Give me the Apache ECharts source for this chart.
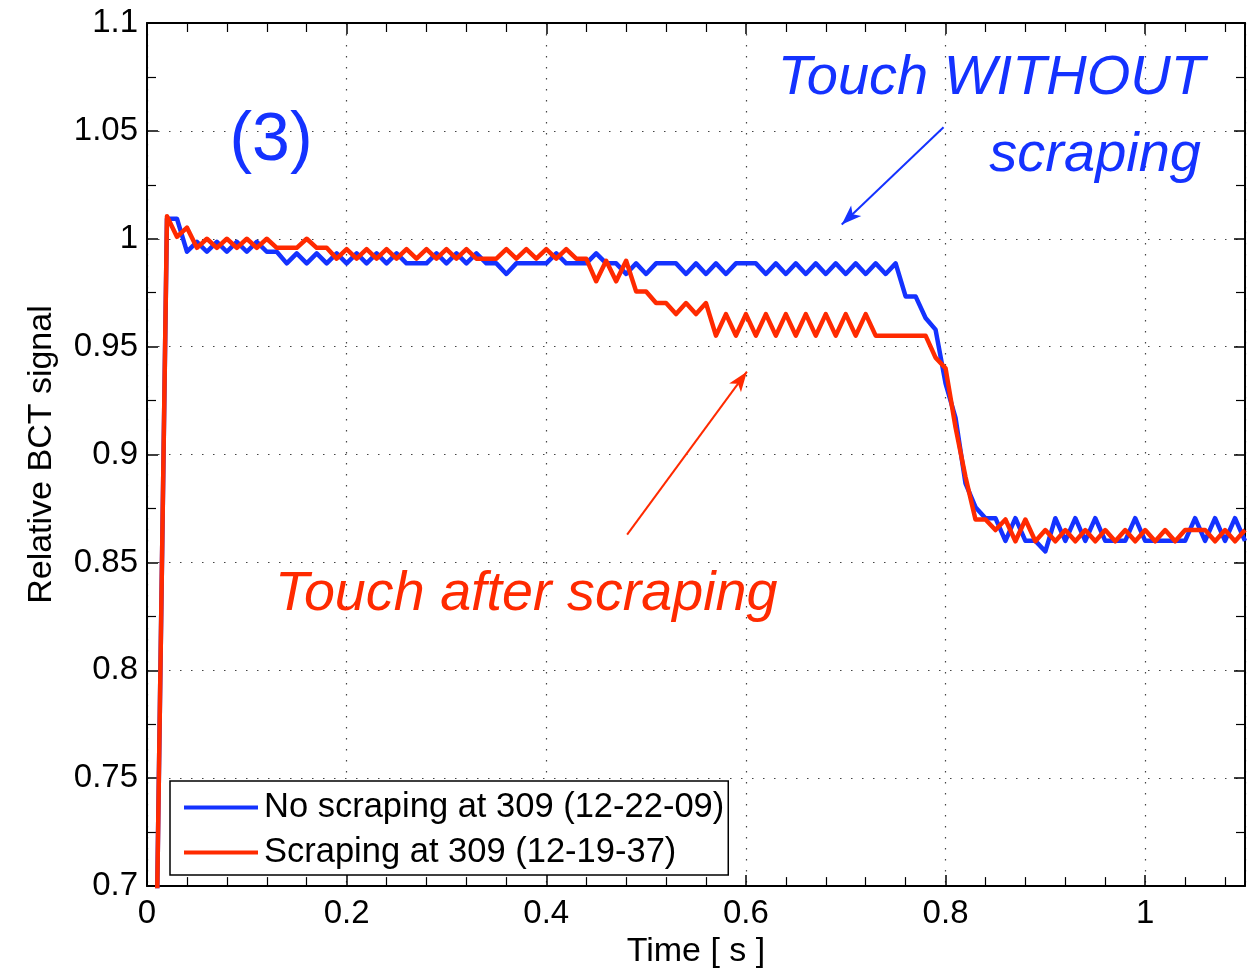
<!DOCTYPE html>
<html>
<head>
<meta charset="utf-8">
<script src="https://cdn.jsdelivr.net/npm/echarts@6/dist/echarts.min.js"></script>
<style>
  html, body { margin: 0; padding: 0; background: #ffffff; overflow: hidden; }
  #chart { width: 1248px; height: 974px; }
</style>
</head>
<body>
<div id="chart"></div>
<script>
// Sample times [s]
const time = [
  0.01, 0.02, 0.03, 0.04, 0.05, 0.06, 0.07, 0.08, 0.09, 0.10,
  0.11, 0.12, 0.13, 0.14, 0.15, 0.16, 0.17, 0.18, 0.19, 0.20,
  0.21, 0.22, 0.23, 0.24, 0.25, 0.26, 0.27, 0.28, 0.29, 0.30,
  0.31, 0.32, 0.33, 0.34, 0.35, 0.36, 0.37, 0.38, 0.39, 0.40,
  0.41, 0.42, 0.43, 0.44, 0.45, 0.46, 0.47, 0.48, 0.49, 0.50,
  0.51, 0.52, 0.53, 0.54, 0.55, 0.56, 0.57, 0.58, 0.59, 0.60,
  0.61, 0.62, 0.63, 0.64, 0.65, 0.66, 0.67, 0.68, 0.69, 0.70,
  0.71, 0.72, 0.73, 0.74, 0.75, 0.76, 0.77, 0.78, 0.79, 0.80,
  0.81, 0.82, 0.83, 0.84, 0.85, 0.86, 0.87, 0.88, 0.89, 0.90,
  0.91, 0.92, 0.93, 0.94, 0.95, 0.96, 0.97, 0.98, 0.99, 1.00,
  1.01, 1.02, 1.03, 1.04, 1.05, 1.06, 1.07, 1.08, 1.09, 1.10
];

// Relative BCT signal, no scraping at 309 (12-22-09)
const noScraping = [
  0.69, 1.0093, 1.0093, 0.9940, 0.9986, 0.9940, 0.9986, 0.9940, 0.9986, 0.9940,
  0.9986, 0.9940, 0.9940, 0.9886, 0.9932, 0.9886, 0.9932, 0.9886, 0.9932, 0.9886,
  0.9932, 0.9886, 0.9932, 0.9886, 0.9932, 0.9886, 0.9886, 0.9886, 0.9932, 0.9886,
  0.9932, 0.9886, 0.9932, 0.9886, 0.9886, 0.9837, 0.9886, 0.9886, 0.9886, 0.9886,
  0.9932, 0.9886, 0.9886, 0.9886, 0.9932, 0.9886, 0.9886, 0.9837, 0.9886, 0.9837,
  0.9886, 0.9886, 0.9886, 0.9837, 0.9886, 0.9837, 0.9886, 0.9837, 0.9886, 0.9886,
  0.9886, 0.9837, 0.9886, 0.9837, 0.9886, 0.9837, 0.9886, 0.9837, 0.9886, 0.9837,
  0.9886, 0.9837, 0.9886, 0.9837, 0.9886, 0.9733, 0.9733, 0.9633, 0.9579, 0.9330,
  0.9170, 0.8866, 0.8756, 0.8705, 0.8705, 0.8600, 0.8705, 0.8600, 0.8600, 0.8551,
  0.8705, 0.8600, 0.8705, 0.8600, 0.8705, 0.8600, 0.8600, 0.8600, 0.8705, 0.8600,
  0.8600, 0.8600, 0.8600, 0.8600, 0.8705, 0.8600, 0.8705, 0.8600, 0.8705, 0.8600
];

// Relative BCT signal, scraping at 309 (12-19-37)
const scraping = [
  0.69, 1.0104, 1.0009, 1.0052, 0.9958, 1.0000, 0.9958, 1.0000, 0.9958, 1.0000,
  0.9958, 1.0000, 0.9958, 0.9958, 0.9958, 1.0000, 0.9958, 0.9958, 0.9908, 0.9952,
  0.9908, 0.9952, 0.9908, 0.9952, 0.9908, 0.9952, 0.9908, 0.9952, 0.9908, 0.9952,
  0.9908, 0.9952, 0.9908, 0.9908, 0.9908, 0.9952, 0.9908, 0.9952, 0.9908, 0.9952,
  0.9908, 0.9952, 0.9908, 0.9908, 0.9803, 0.9898, 0.9803, 0.9898, 0.9756, 0.9756,
  0.9702, 0.9702, 0.9651, 0.9702, 0.9651, 0.9702, 0.9551, 0.9651, 0.9551, 0.9651,
  0.9551, 0.9651, 0.9551, 0.9651, 0.9551, 0.9651, 0.9551, 0.9651, 0.9551, 0.9651,
  0.9551, 0.9651, 0.9551, 0.9551, 0.9551, 0.9551, 0.9551, 0.9551, 0.9449, 0.9400,
  0.9126, 0.8896, 0.8699, 0.8699, 0.8650, 0.8699, 0.8598, 0.8699, 0.8598, 0.8650,
  0.8598, 0.8650, 0.8598, 0.8650, 0.8598, 0.8650, 0.8598, 0.8650, 0.8598, 0.8650,
  0.8598, 0.8650, 0.8598, 0.8650, 0.8650, 0.8650, 0.8598, 0.8650, 0.8598, 0.8650
];

const seriesNames = ['No scraping at 309 (12-22-09)', 'Scraping at 309 (12-19-37)'];

// Annotation arrows: [start, end] in (time, signal)
const arrowWithout = [[0.798, 1.0517], [0.696, 1.0066]];
const arrowAfter = [[0.481, 0.8629], [0.601, 0.9384]];

const BLUE = '#1432ff';
const RED = '#ff2a00';
const FONT = '"Liberation Sans", Arial, Helvetica, sans-serif';

const pairs = (vals) => vals.map((v, i) => [time[i], v]);
const fmt = (v) => String(+v.toFixed(3));

const gridLine = { show: true, lineStyle: { color: '#444', width: 1.2, type: [1.5, 9.5] } };
const tick = { show: true, inside: true, length: 11, lineStyle: { color: '#000', width: 1.5 } };
const minor = { show: true, length: 9, lineStyle: { color: '#000', width: 1.2 } };
const axisLine = { show: true, onZero: false, lineStyle: { color: '#000', width: 2 } };

const chart = echarts.init(document.getElementById('chart'), null, { renderer: 'canvas', width: 1248, height: 974 });

chart.setOption({
  animation: false,
  backgroundColor: '#ffffff',
  grid: { left: 147, right: 1, top: 23, bottom: 84, containLabel: false },
  xAxis: [
    {
      type: 'value', min: 0, max: 1.1, interval: 0.2,
      name: 'Time [ s ]', nameLocation: 'middle', nameGap: 48,
      nameTextStyle: { fontFamily: FONT, fontSize: 34, color: '#000' },
      axisLine: axisLine, axisTick: tick,
      minorTick: Object.assign({ splitNumber: 5 }, minor),
      splitLine: gridLine,
      axisLabel: {
        fontFamily: FONT, fontSize: 33, color: '#000', margin: 11,
        formatter: (v) => (v > 1.05 ? '' : fmt(v))
      }
    },
    {
      type: 'value', min: 0, max: 1.1, interval: 0.2, position: 'top',
      axisLine: axisLine, axisTick: tick,
      minorTick: Object.assign({ splitNumber: 5 }, minor),
      splitLine: { show: false }, axisLabel: { show: false }
    }
  ],
  yAxis: [
    {
      type: 'value', min: 0.7, max: 1.1, interval: 0.05,
      name: 'Relative BCT signal', nameLocation: 'middle', nameGap: 88, nameRotate: 90,
      nameTextStyle: { fontFamily: FONT, fontSize: 34, color: '#000' },
      axisLine: axisLine, axisTick: tick,
      minorTick: Object.assign({ splitNumber: 2 }, minor),
      splitLine: gridLine,
      axisLabel: { fontFamily: FONT, fontSize: 33, color: '#000', margin: 9, formatter: fmt }
    },
    {
      type: 'value', min: 0.7, max: 1.1, interval: 0.05, position: 'right',
      axisLine: axisLine, axisTick: tick,
      minorTick: Object.assign({ splitNumber: 2 }, minor),
      splitLine: { show: false }, axisLabel: { show: false }
    }
  ],
  legend: {
    orient: 'vertical', left: 170, top: 781,
    backgroundColor: '#ffffff', borderColor: '#000', borderWidth: 1.5, borderRadius: 0,
    padding: [9, 4, 5, 14], itemGap: 10, itemWidth: 74, itemHeight: 4, icon: 'rect',
    textStyle: { fontFamily: FONT, fontSize: 34.5, color: '#000', padding: [0, 0, 0, 1] },
    data: seriesNames
  },
  series: [
    {
      name: seriesNames[0], type: 'line', xAxisIndex: 0, yAxisIndex: 0,
      data: pairs(noScraping), showSymbol: false, symbol: 'none',
      lineStyle: { color: BLUE, width: 4.5, join: 'round' }, itemStyle: { color: BLUE },
      emphasis: { disabled: true }, z: 3,
      markLine: {
        silent: true, symbol: ['none', 'arrow'], symbolSize: [11, 20],
        label: { show: false }, lineStyle: { color: BLUE, width: 2, type: 'solid' },
        data: [[{ coord: arrowWithout[0] }, { coord: arrowWithout[1] }]]
      }
    },
    {
      name: seriesNames[1], type: 'line', xAxisIndex: 0, yAxisIndex: 0,
      data: pairs(scraping), showSymbol: false, symbol: 'none',
      lineStyle: { color: RED, width: 4.5, join: 'round' }, itemStyle: { color: RED },
      emphasis: { disabled: true }, z: 4,
      markLine: {
        silent: true, symbol: ['none', 'arrow'], symbolSize: [11, 20],
        label: { show: false }, lineStyle: { color: RED, width: 2, type: 'solid' },
        data: [[{ coord: arrowAfter[0] }, { coord: arrowAfter[1] }]]
      }
    }
  ],
  graphic: [
    { type: 'text', x: 271, y: 141, z: 10,
      style: { text: '(3)', fill: BLUE, fontFamily: FONT, fontSize: 68, textAlign: 'center', textVerticalAlign: 'middle' } },
    { type: 'text', x: 1205, y: 78, z: 10,
      style: { text: 'Touch WITHOUT', fill: BLUE, fontFamily: FONT, fontStyle: 'italic', fontSize: 56, textAlign: 'right', textVerticalAlign: 'middle' } },
    { type: 'text', x: 1201, y: 155, z: 10,
      style: { text: 'scraping', fill: BLUE, fontFamily: FONT, fontStyle: 'italic', fontSize: 56, textAlign: 'right', textVerticalAlign: 'middle' } },
    { type: 'text', x: 275, y: 595, z: 10,
      style: { text: 'Touch after scraping', fill: RED, fontFamily: FONT, fontStyle: 'italic', fontSize: 55.7, textAlign: 'left', textVerticalAlign: 'middle' } }
  ]
});
</script>
</body>
</html>
